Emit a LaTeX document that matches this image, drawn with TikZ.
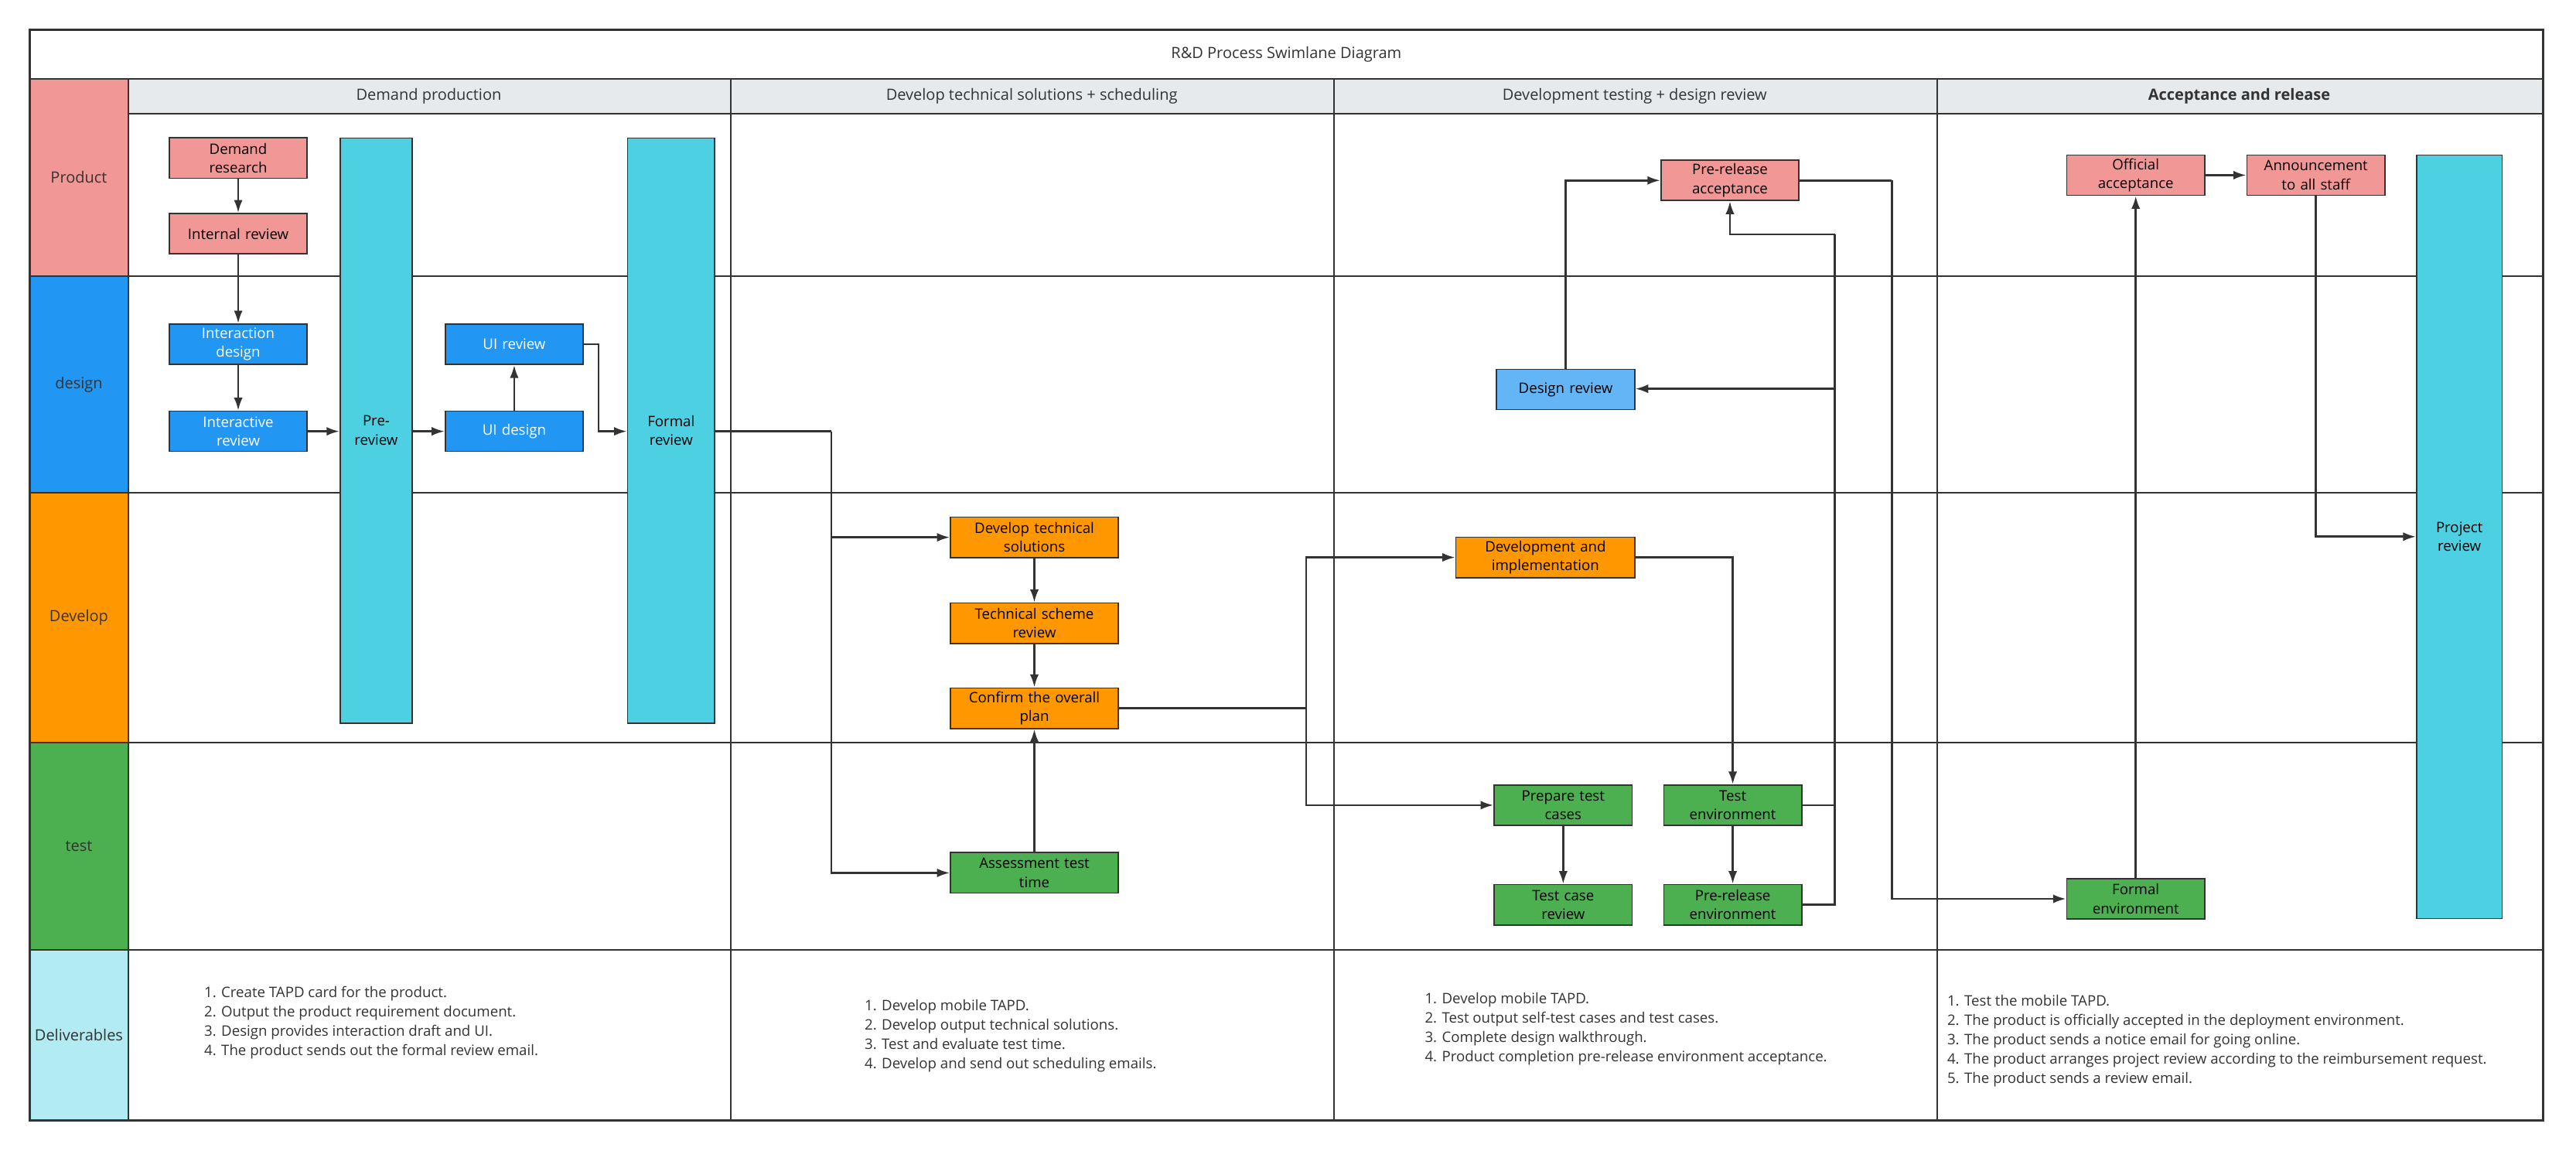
\documentclass[tikz,border=0pt]{standalone}
\usepackage{fontspec}
\setmainfont{Open Sans}
\usetikzlibrary{arrows.meta}
\definecolor{lnc}{HTML}{333333}
\definecolor{pk}{HTML}{F19896}
\definecolor{bl}{HTML}{2196F3}
\definecolor{og}{HTML}{FF9800}
\definecolor{gr}{HTML}{4CAF50}
\definecolor{cy}{HTML}{4DD0E1}
\definecolor{lb}{HTML}{B3EBF2}
\definecolor{hd}{HTML}{E6EAED}
\definecolor{dr}{HTML}{64B5F6}
\tikzset{
  u/.style={},
  box/.style={draw=lnc,line width=0.5pt,inner sep=1pt,align=center,font=\fontsize{5.6}{7.3}\selectfont,text=black},
  bx/.style={box,minimum width=84*0.6375pt,minimum height=24.5*0.6375pt,text width=80*0.6375pt},
  wbx/.style={box,minimum width=102*0.6375pt,minimum height=24.6*0.6375pt,text width=98*0.6375pt},
  bar/.style={box,fill=cy},
  arr/.style={draw=lnc,line width=0.8pt,-{Latex[length=5pt,width=3.4pt]}},
  ln/.style={draw=lnc,line width=0.8pt},
  lab/.style={font=\fontsize{6}{7.5}\selectfont,text=lnc},
  del/.style={font=\fontsize{5.6}{7.5}\selectfont,text=lnc,align=left,anchor=north west,inner sep=0pt}
}
\begin{document}
\begin{tikzpicture}[x=0.6375pt,y=-0.6375pt]
\useasboundingbox (0,0) rectangle (1568,700.4);
% row label fills
\fill[pk] (18,48) rectangle (78,168);
\fill[bl] (18,168) rectangle (78,300);
\fill[og] (18,300) rectangle (78,452);
\fill[gr] (18,452) rectangle (78,578);
\fill[lb] (18,578) rectangle (78,682);
\fill[hd] (78,48) rectangle (1548,69);
% grid
\draw[lnc,line width=0.7pt] (18,48) -- (1548,48);
\draw[lnc,line width=0.6pt] (78,69) -- (1548,69);
\foreach \yy in {168,300,452,578} \draw[lnc,line width=0.6pt] (18,\yy) -- (1548,\yy);
\draw[lnc,line width=0.6pt] (78,48) -- (78,682);
\foreach \xx in {445,812,1179} \draw[lnc,line width=0.6pt] (\xx,48) -- (\xx,682);
\draw[lnc,line width=1pt] (18,18) rectangle (1548,682);
% texts
\node[lab] (title) at (783,33) {R\&D Process Swimlane Diagram};
\node[lab] (h1) at (261,58.5) {Demand production};
\node[lab] (h2) at (628,58.5) {Develop technical solutions + scheduling};
\node[lab] (h3) at (995,58.5) {Development testing + design review};
\node[lab,font=\fontsize{6}{7.5}\selectfont\bfseries] (h4) at (1363,58.5) {Acceptance and release};
\node[lab] (r1) at (48,108) {Product};
\node[lab] (r2) at (48,234) {design};
\node[lab] (r3) at (48,376) {Develop};
\node[lab] (r4) at (48,515) {test};
\node[lab] (r5) at (48,630) {Deliverables};
% bars
\node[bar,minimum width=44*0.6375pt,minimum height=356*0.6375pt] (pre) at (229,262) {Pre-\\review};
\node[bar,minimum width=53*0.6375pt,minimum height=356*0.6375pt] (frm) at (408.5,262) {Formal\\review};
\node[bar,minimum width=52*0.6375pt,minimum height=464.6*0.6375pt] (proj) at (1497,326.7) {Project\\review};
% demand column
\node[bx,fill=pk] (dres) at (145,96.2) {Demand\\research};
\node[bx,fill=pk] (irev) at (145,142.2) {Internal review};
\node[bx,fill=bl,text=white] (idsg) at (145,209.5) {Interaction\\design};
\node[bx,fill=bl,text=white] (irv) at (145,262.5) {Interactive\\review};
\node[bx,fill=bl,text=white] (uir) at (313,209.5) {UI review};
\node[bx,fill=bl,text=white] (uid) at (313,262.5) {UI design};
% column 2
\node[wbx,fill=og] (dts) at (629.6,327) {Develop technical\\solutions};
\node[wbx,fill=og] (tsr) at (629.6,379.3) {Technical scheme\\review};
\node[wbx,fill=og] (conf) at (629.6,431) {Confirm the overall\\plan};
\node[wbx,fill=gr] (ast) at (629.6,531.2) {Assessment test\\time};
% column 3
\node[bx,fill=pk] (pra) at (1053,109.8) {Pre-release\\acceptance};
\node[bx,fill=dr] (drv) at (953,237) {Design review};
\node[wbx,minimum width=109*0.6375pt,text width=105*0.6375pt,fill=og] (dev) at (940.7,339.2) {Development and\\implementation};
\node[bx,fill=gr] (ptc) at (951.5,490) {Prepare test\\cases};
\node[bx,fill=gr] (tenv) at (1054.7,490) {Test\\environment};
\node[bx,fill=gr] (tcr) at (951.5,550.6) {Test case\\review};
\node[bx,fill=gr] (prenv) at (1054.7,550.6) {Pre-release\\environment};
% column 4
\node[bx,fill=pk] (off) at (1300,106.6) {Official\\acceptance};
\node[bx,fill=pk] (ann) at (1409.7,106.6) {Announcement\\to all staff};
\node[bx,fill=gr] (fenv) at (1300,547) {Formal\\environment};
% connectors
\draw[arr] (dres) -- (irev);
\draw[arr] (irev) -- (idsg);
\draw[arr] (idsg) -- (irv);
\draw[arr] (irv.east) -- (pre.west |- irv.east);
\draw[arr] (pre.east |- uid.west) -- (uid.west);
\draw[arr] (uid) -- (uir);
\draw[arr] (uir.east) -- ++(9,0) |- (frm.west |- uid.west);
\coordinate (c1) at (506,262.5);
\draw[ln] (frm.east |- c1) -- (c1);
\draw[arr] (c1) |- (dts.west);
\draw[arr] (c1) |- (ast.west);
\draw[arr] (dts) -- (tsr);
\draw[arr] (tsr) -- (conf);
\draw[arr] (ast) -- (conf);
\coordinate (c2) at (795,431);
\draw[ln] (conf.east) -- (c2);
\draw[arr] (c2) |- (dev.west);
\draw[arr] (c2) |- (ptc.west);
\draw[arr] (dev.east) -| (tenv.north);
\draw[arr] (ptc) -- (tcr);
\draw[arr] (tenv) -- (prenv);
\coordinate (c3) at (1116.8,550.6);
\coordinate (c4) at (1116.8,142.7);
\coordinate (c5) at (1116.8,236.6);
\draw[ln] (tenv.east) -- (tenv.east -| c3);
\draw[ln] (prenv.east) -- (c3) -- (c4);
\draw[arr] (c4) -| (pra.south);
\draw[arr] (c5) -- (drv.east |- c5);
\draw[arr] (drv.north) |- (pra.west);
\coordinate (c6) at (1151.6,109.8);
\draw[ln] (pra.east) -- (c6);
\draw[arr] (c6) |- (fenv.west);
\draw[arr] (fenv) -- (off);
\draw[arr] (off) -- (ann);
\draw[arr] (ann.south) |- (proj.west |- 0,326.6);
% deliverables
\node[del] (d1) at (124,600) {1. Create TAPD card for the product.\\2. Output the product requirement document.\\3. Design provides interaction draft and UI.\\4. The product sends out the formal review email.};
\node[del] (d2) at (526,608) {1. Develop mobile TAPD.\\2. Develop output technical solutions.\\3. Test and evaluate test time.\\4. Develop and send out scheduling emails.};
\node[del] (d3) at (867,604) {1. Develop mobile TAPD.\\2. Test output self-test cases and test cases.\\3. Complete design walkthrough.\\4. Product completion pre-release environment acceptance.};
\node[del] (d4) at (1185,605) {1. Test the mobile TAPD.\\2. The product is officially accepted in the deployment environment.\\3. The product sends a notice email for going online.\\4. The product arranges project review according to the reimbursement request.\\5. The product sends a review email.};
\end{tikzpicture}
\end{document}
